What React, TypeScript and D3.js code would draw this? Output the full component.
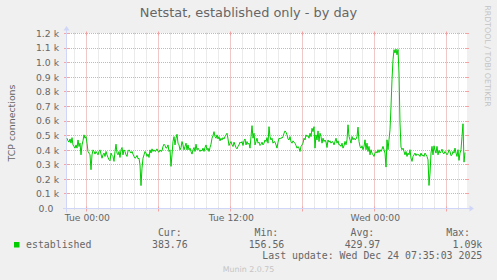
import React from "react";
import * as d3 from "d3";

// ---- data (5-minute samples, TCP connections) ----
const startTime = new Date(2025, 11, 22, 22, 23, 20);
const stepMinutes = 5;
const slotCount = 400;

const valuesMonNightTueMorning = [
  482, 464, 455, 477, 448, 486, 436, 425, 414, 436,
  414, 470, 425, 448, 368, 436, 464, 505, 482, 493,
  448, 391, 380, 368, 266, 368, 402, 391, 373, 391,
  380, 368, 391, 402, 373, 345, 368, 380, 357, 391,
  368, 350, 334, 327, 380, 364, 357, 323, 391, 441,
  380, 368, 391, 350, 402, 418, 368, 402, 391, 368,
  357, 395, 402, 391, 380, 391, 373, 357, 345, 350,
  364, 341, 345, 300, 157, 277, 345, 368, 391, 380,
  357, 373, 350, 402, 380, 409, 391, 402, 391, 395,
  409, 391, 386, 402, 391, 395, 425, 441, 432, 414,
  418, 436, 391, 402, 289, 368, 459, 493, 436, 482,
  509, 448, 436, 402, 418, 459, 436, 402, 425, 448,
  402, 436, 402, 414, 391, 373, 402, 418, 391, 441,
  402, 414, 402, 391, 402, 395, 414,
];

const valuesTueDay = [
  391, 418, 436, 402, 414, 391, 418, 441, 482, 500,
  527, 493, 482, 505, 477, 493, 464, 482, 470, 486,
  477, 493, 505, 516, 477, 432, 448, 459, 436, 425,
  455, 436, 418, 409, 425, 436, 455, 448, 459, 432,
  464, 477, 436, 459, 441, 448, 414, 493, 568, 482,
  516, 436, 459, 482, 448, 455, 432, 441, 455, 436,
  448, 470, 459, 486, 448, 561, 493, 470, 482, 448,
  459, 455, 436, 414, 455, 482, 477, 486, 482, 493,
  516, 532, 523, 505, 477, 470, 493, 459, 448, 464,
  455, 448, 432, 414, 425, 414, 391, 425, 436, 448,
  482, 470, 505, 493, 500, 482, 516, 493, 550, 527,
  561, 414, 505, 470, 532, 459, 516, 493, 448, 482,
  459, 470, 455, 418, 470, 455, 464, 448, 459, 455,
  436, 459, 482, 448, 464, 436,
];

const valuesTueNightWed = [
  437, 426, 448, 414, 430, 460, 437, 471, 574, 494,
  471, 448, 494, 471, 483, 471, 476, 494, 558, 460,
  426, 414, 430, 403, 426, 471, 403, 448, 391, 426,
  368, 403, 380, 368, 357, 380, 391, 380, 403, 384,
  403, 391, 407, 426, 403, 380, 284, 471, 403, 471,
  540, 700, 883, 1020, 1089, 1066, 1093, 1054, 1090, 929,
  586, 421, 403, 414, 391, 368, 391, 357, 380, 368,
  403, 346, 323, 357, 368, 380, 362, 375, 368, 368,
  357, 380, 362, 368, 357, 380, 368, 357, 334, 158,
  243, 380, 426, 368, 430, 398, 380, 426, 368, 398,
  380, 391, 407, 380, 375, 391, 380, 368, 380, 403,
  391, 362, 368, 391, 380, 414, 380, 357, 403, 330,
  380, 403, 494, 581, 318, 384,
];

const yTickValues = [0, 100, 200, 300, 400, 500, 600, 700, 800, 900, 1000, 1100, 1200];
const legendHeaders = ["Cur:", "Min:", "Avg:", "Max:"];
const legendValues = ["383.76", "156.56", "429.97", "1.09k"];
const seriesName = "established";
const titleText = "Netstat, established only - by day";
const yAxisTitle = "TCP connections";
const lastUpdateText = "Last update: Wed Dec 24 07:35:03 2025";
const footerText = "Munin 2.0.75";
const watermarkText = "RRDTOOL / TOBI OETIKER";

// ---- layout ----
const W = 497;
const H = 280;
const L = 67;
const R = 467;
const T = 33.5;
const B = 208.5;

const COLORS = {
  back: "#F0F0F0",
  canvas: "#FFFFFF",
  font: "#666666",
  axis: "#CFD6F8",
  mgrid: "#F4A4A4",
  grid: "#D6D6D6",
  line: "#00CC00",
  faint: "#C4C4C4",
};

const SANS = "'DejaVu Sans', sans-serif";
const MONO = "'DejaVu Sans Mono', monospace";

export default function App() {
  const values = [...valuesMonNightTueMorning, ...valuesTueDay, ...valuesTueNightWed];
  const endTime = new Date(startTime.getTime() + slotCount * stepMinutes * 60000);
  const data = values.map((v, i) => ({
    t: new Date(startTime.getTime() + i * stepMinutes * 60000),
    v,
  }));

  const x = d3.scaleTime().domain([startTime, endTime]).range([L, R]);
  const y = d3.scaleLinear().domain([0, 1200]).range([B, T]);

  const minorTimes = d3.timeHour.every(1)!.range(startTime, endTime);
  const majorTimes = d3.timeHour.every(6)!.range(startTime, endTime);
  const labelTimes = d3.timeHour.every(12)!.range(startTime, endTime);
  const fmt = d3.timeFormat("%a %H:%M");

  const crisp = (p: number) => Math.floor(p) + 0.5;

  const line = d3
    .line<{ t: Date; v: number }>()
    .x((d) => x(d.t))
    .y((d) => y(d.v));

  const yLabel = (v: number) => (v === 0 ? "0.0" : `${(v / 1000).toFixed(1)} k`);

  return (
    <svg
      width={W}
      height={H}
      style={{ position: "absolute", left: 0, top: 0, display: "block" }}
    >
      <rect x={0} y={0} width={W} height={H} fill={COLORS.back} />
      <rect x={L} y={T - 0.5} width={R - L} height={B - T + 0.5} fill={COLORS.canvas} />

      {/* minor vertical grid */}
      {minorTimes.map((t, i) => {
        const px = crisp(x(t));
        return (
          <g key={"mv" + i}>
            <line x1={px} x2={px} y1={T} y2={B} stroke={COLORS.grid} strokeDasharray="1,1" />
            <line x1={px} x2={px} y1={B - 1} y2={B + 1} stroke={COLORS.grid} />
            <line x1={px} x2={px} y1={T - 1} y2={T + 1} stroke={COLORS.grid} />
          </g>
        );
      })}
      {/* major vertical grid */}
      {majorTimes.map((t, i) => {
        const px = crisp(x(t));
        return (
          <g key={"Mv" + i}>
            <line x1={px} x2={px} y1={T} y2={B} stroke={COLORS.mgrid} strokeDasharray="1,1" />
            <line x1={px} x2={px} y1={B - 2} y2={B + 3} stroke={COLORS.mgrid} />
            <line x1={px} x2={px} y1={T - 2} y2={T + 2} stroke={COLORS.mgrid} />
          </g>
        );
      })}
      {/* horizontal grid */}
      {yTickValues.map((v) => {
        const py = crisp(y(v));
        return (
          <g key={"h" + v}>
            <line x1={L} x2={R} y1={py} y2={py} stroke={COLORS.mgrid} strokeDasharray="1,1" />
            <line x1={L - 3} x2={L + 2} y1={py} y2={py} stroke={COLORS.mgrid} />
            <line x1={R - 2} x2={R + 2} y1={py} y2={py} stroke={COLORS.mgrid} />
            <text
              x={59}
              dx={v === 0 ? -5.7 : 0}
              y={y(v) + 3.4}
              textAnchor="end"
              fontFamily={SANS}
              fontSize={9.25}
              fill={COLORS.font}
            >
              {yLabel(v)}
            </text>
          </g>
        );
      })}

      {/* x labels */}
      {labelTimes.map((t, i) => (
        <text
          key={"xl" + i}
          x={x(t) + 1}
          y={221}
          textAnchor="middle"
          fontFamily={SANS}
          fontSize={9.2}
          fill={COLORS.font}
        >
          {fmt(t)}
        </text>
      ))}

      {/* axes */}
      <line x1={63} x2={471} y1={B} y2={B} stroke={COLORS.axis} />
      <line x1={L - 0.5} x2={L - 0.5} y1={B + 4} y2={29} stroke={COLORS.axis} />
      <path d={`M${474},${B} L${469.5},${B - 3} L${469.5},${B + 3} Z`} fill={COLORS.axis} />
      <path d={`M${L - 0.5},${26} L${L - 3.5},${30.5} L${L + 2.5},${30.5} Z`} fill={COLORS.axis} />

      {/* data line */}
      <path d={line(data) ?? ""} fill="none" stroke={COLORS.line} strokeWidth={1} />

      {/* title */}
      <text x={248.5} y={17} textAnchor="middle" fontFamily={SANS} fontSize={12.9} fill={COLORS.font}>
        {titleText}
      </text>

      {/* y axis title */}
      <text
        transform={`translate(15,${(T + B) / 2 + 2}) rotate(-90)`}
        textAnchor="middle"
        fontFamily={SANS}
        fontSize={9.4}
        fill={COLORS.font}
      >
        {yAxisTitle}
      </text>

      {/* watermark */}
      <text
        transform={`translate(485,56) rotate(90)`}
        textAnchor="middle"
        fontFamily={SANS}
        fontSize={7.9}
        fill={COLORS.faint}
      >
        {watermarkText}
      </text>

      {/* legend */}
      <rect x={14} y={242} width={5.5} height={5.5} fill={COLORS.line} />
      <text x={26} y={248} fontFamily={MONO} fontSize={9.9} fill={COLORS.font}>
        {seriesName}
      </text>
      {legendHeaders.map((h, i) => (
        <text
          key={"lh" + i}
          x={[181.7, 278.3, 374.3, 470][i]}
          y={236}
          textAnchor="end"
          fontFamily={MONO}
          fontSize={9.9}
          fill={COLORS.font}
        >
          {h}
        </text>
      ))}
      {legendValues.map((v, i) => (
        <text
          key={"lv" + i}
          x={[187.7, 284.3, 380.3, 482.3][i]}
          y={248}
          textAnchor="end"
          fontFamily={MONO}
          fontSize={9.9}
          fill={COLORS.font}
        >
          {v}
        </text>
      ))}
      <text x={482.3} y={259} textAnchor="end" fontFamily={MONO} fontSize={9.9} fill={COLORS.font}>
        {lastUpdateText}
      </text>
      <text x={248.5} y={271.5} textAnchor="middle" fontFamily={SANS} fontSize={7.9} fill={COLORS.faint}>
        {footerText}
      </text>
    </svg>
  );
}
